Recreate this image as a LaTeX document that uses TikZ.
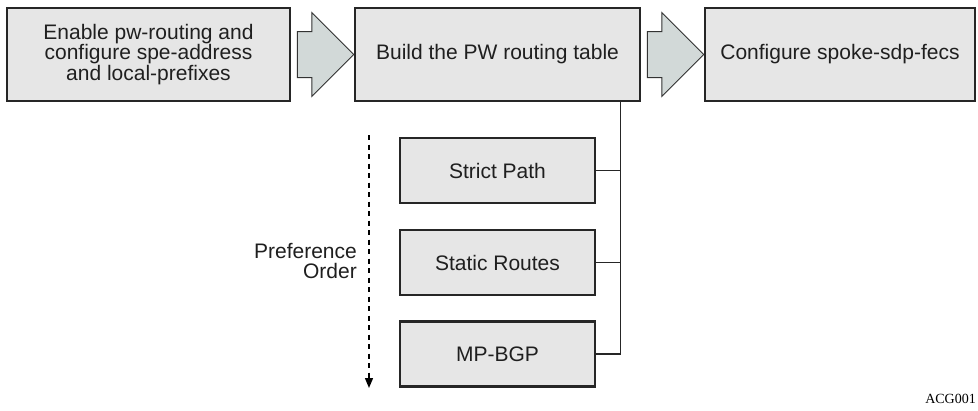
\documentclass[tikz,border=0pt]{standalone}
\usepackage{fontspec}
\setmainfont{Liberation Sans}
\newfontfamily\tagfont{Liberation Serif}
\usetikzlibrary{calc,arrows.meta}
\definecolor{boxgray}{HTML}{E6E6E6}
\definecolor{arrowgray}{HTML}{D2D9D8}

\tikzset{
  stage/.style={draw=black!85, line width=2.5pt, fill=boxgray, align=center,
    inner sep=0pt, minimum height=93pt, text=black!88,
    font=\fontsize{21}{20.5}\selectfont},
  source/.style={stage, minimum width=195pt, minimum height=65pt},
  blockarr/.style={draw=black!80, line width=1pt, fill=arrowgray},
  link/.style={draw=black!85, line width=1.5pt}
}

\begin{document}
\begin{tikzpicture}[x=1pt, y=-1pt]
\useasboundingbox (0,0) rectangle (978,410);

% Top row: the three steps
\node[stage, minimum width=283pt] (enable) at (148.5,54.5)
  {Enable pw-routing and\\configure spe-address\\and local-prefixes};
\node[stage, minimum width=285pt] (build) at (497.5,54.5) {Build the PW routing table};
\node[stage, minimum width=270pt] (spoke) at (840,54.5) {Configure spoke-sdp-fecs};

% Block arrows between the steps
\foreach \a/\b in {enable/build, build/spoke}
  \draw[blockarr] ($(\a.east)+(6,-23)$) -- ($(\b.west)+(-42,-23)$)
    -- ($(\b.west)+(-42,-42)$) -- (\b.west) -- ($(\b.west)+(-42,42)$)
    -- ($(\b.west)+(-42,23)$) -- ($(\a.east)+(6,23)$) -- cycle;

% Route sources
\node[source] (strict) at (497.5,170.5) {Strict Path};
\node[source] (static) at (497.5,262.5) {Static Routes};
\node[source] (bgp) at (497.5,354) {MP-BGP};

\coordinate (bus) at ($(build.south east)+(-21,0)$);
\draw[link] (bus) |- (bgp.east);
\foreach \n in {strict,static} \draw[link] (\n.east) -- (\n.east -| bus);

% Preference order
\coordinate (pref top) at (369,135);
\coordinate (pref end) at (369,388);
\draw[line width=1.4pt, dash pattern=on 5pt off 4.5pt,
  -{Triangle[length=10pt, width=8pt]}] (pref top) -- (pref end);
\node[anchor=east, align=right, inner sep=0pt, text=black!88,
  font=\fontsize{21}{20.5}\selectfont] (pref) at (357,261) {Preference\\Order};

\node[anchor=south east, inner sep=0pt, font=\tagfont\fontsize{14}{14}\selectfont] (tag)
  at (976,404) {ACG001};

\end{tikzpicture}
\end{document}
